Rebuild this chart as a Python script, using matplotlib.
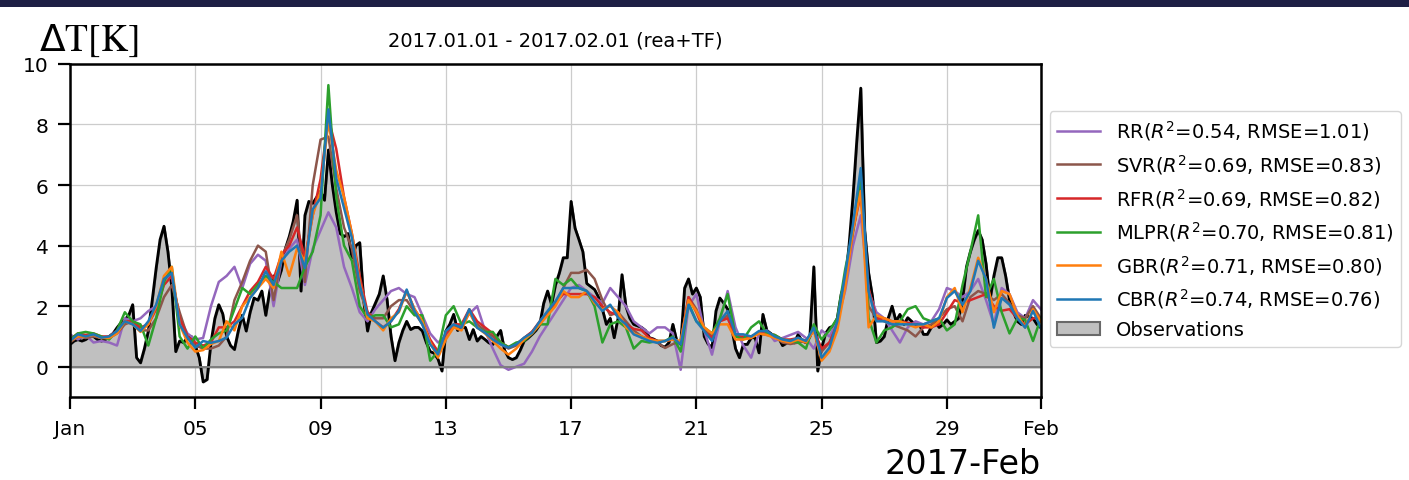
import numpy as np
import pandas as pd
import matplotlib
matplotlib.use('Agg')
import matplotlib.pyplot as plt
import matplotlib.dates as mdates
from matplotlib.patches import Rectangle

# observations, 3-hourly, 2017-01-01 00:00 .. 2017-02-01 00:00
obs = [
    0.74, 0.85, 0.9, 0.85, 0.9, 1.0, 1.0, 0.9,
    0.85, 0.9, 1.0, 1.1, 1.29, 1.45, 1.56, 1.7,
    2.05, 0.3, 0.13, 0.6, 1.18, 2.2, 3.26, 4.2,
    4.64, 3.8, 2.6, 0.5, 0.85, 0.8, 0.96, 1.0,
    0.7, 0.3, -0.5, -0.42, 0.8, 1.6, 2.05, 1.75,
    1.0, 0.7, 0.57, 1.2, 1.7, 1.18, 1.8, 2.27,
    2.2, 2.5, 1.7, 2.5, 3.0, 2.8, 3.2, 3.9,
    4.3, 4.8, 5.5, 2.5, 5.0, 5.46, 5.4, 5.6,
    5.8, 5.5, 7.16, 6.0, 5.1, 4.4, 4.3, 4.4,
    3.6, 4.0, 4.1, 2.2, 1.18, 1.8, 2.1, 2.4,
    3.0, 2.2, 1.0, 0.2, 0.8, 1.2, 1.5, 1.23,
    1.3, 1.3, 1.18, 0.8, 0.5, 0.45, 0.25, -0.14,
    1.18, 1.4, 1.73, 1.2, 1.3, 1.3, 0.9, 1.23,
    0.85, 1.0, 0.9, 0.79, 0.74, 1.0, 1.2, 0.55,
    0.3, 0.24, 0.3, 0.55, 0.85, 0.95, 1.07, 1.2,
    1.4, 2.1, 2.5, 2.05, 2.7, 3.1, 3.6, 3.6,
    5.46, 4.58, 4.2, 3.8, 2.75, 2.65, 2.55, 2.3,
    1.9, 1.4, 1.6, 0.96, 1.6, 3.04, 2.0, 1.6,
    1.4, 1.35, 1.3, 1.2, 0.96, 0.92, 0.85, 0.7,
    0.65, 0.8, 1.4, 0.85, 0.74, 2.6, 2.9, 2.4,
    2.6, 2.3, 1.0, 0.75, 0.63, 1.84, 2.27, 2.1,
    1.9, 1.3, 0.6, 0.3, 0.74, 0.74, 0.96, 0.96,
    0.46, 1.73, 1.2, 1.1, 1.0, 0.96, 0.7, 0.78,
    0.85, 0.79, 1.07, 0.85, 0.8, 1.0, 3.3, -0.14,
    0.63, 1.1, 1.29, 1.35, 1.6, 2.4, 2.8, 4.0,
    5.6, 7.5, 9.2, 4.5, 3.1, 2.3, 0.8, 0.85,
    1.0, 1.6, 2.0, 1.5, 1.73, 1.4, 1.62, 1.5,
    1.4, 1.4, 1.07, 1.07, 1.3, 1.5, 1.3, 1.4,
    1.55, 1.4, 1.5, 1.6, 2.2, 3.3, 3.8, 4.2,
    4.5, 4.2, 3.4, 2.2, 3.0, 3.6, 3.6, 3.0,
    2.2, 1.8, 1.5, 1.4, 1.7, 1.65, 1.6, 1.4,
    1.29]

# model predictions, 6-hourly
rr = [
    1.07, 0.9, 1.05, 0.8, 0.85, 0.8, 0.7, 1.6,
    1.5, 1.6, 1.84, 2.0, 2.9, 3.0, 1.6, 1.1,
    0.9, 0.95, 2.0, 2.8, 3.0, 3.3, 2.6, 3.4,
    3.7, 3.5, 2.0, 3.5, 3.9, 4.2, 2.7, 3.9,
    4.5, 5.1, 4.6, 3.3, 2.6, 1.8, 1.5, 1.9,
    2.2, 2.5, 2.6, 2.4, 2.3, 1.7, 1.1, 0.8,
    1.0, 1.3, 1.4, 1.75, 2.0, 1.2, 0.6, 0.05,
    -0.1, 0.0, 0.1, 0.5, 1.0, 1.4, 1.8, 2.2,
    2.6, 2.7, 2.5, 2.3, 2.1, 2.6, 2.3, 2.0,
    1.5, 1.3, 1.1, 1.3, 1.3, 1.1, -0.1, 2.0,
    2.4, 1.2, 0.4, 1.5, 2.5, 1.3, 0.7, 0.3,
    1.1, 1.2, 0.85, 0.95, 1.05, 1.15, 0.95, 0.6,
    1.2, 1.0, 1.5, 2.5, 4.0, 5.0, 2.5, 1.8,
    1.6, 1.2, 0.8, 1.3, 1.5, 1.4, 1.5, 1.9,
    2.6, 2.5, 2.3, 2.5, 2.9, 2.2, 1.4, 2.6,
    2.4, 1.8, 1.6, 2.2, 1.9]
svr = [
    0.8, 1.0, 0.95, 1.0, 0.95, 0.95, 1.1, 1.4,
    1.5, 1.2, 1.2, 1.6, 2.3, 2.7, 1.8, 1.0,
    0.7, 0.6, 0.6, 0.7, 1.0, 2.2, 2.8, 3.5,
    4.0, 3.8, 2.2, 3.6, 4.2, 5.0, 2.8, 6.0,
    7.5, 7.6, 5.9, 4.6, 3.9, 2.5, 1.8, 1.6,
    1.6, 2.0, 2.2, 2.2, 1.8, 1.4, 0.8, 0.5,
    1.1, 1.35, 1.3, 1.8, 1.4, 1.2, 1.0, 0.75,
    0.6, 0.7, 0.95, 1.15, 1.45, 1.8, 2.1, 2.6,
    3.1, 3.1, 3.2, 2.9, 2.2, 1.7, 1.8, 1.5,
    1.2, 1.0, 0.9, 0.8, 0.62, 0.75, 0.85, 2.3,
    1.9, 1.2, 1.0, 1.5, 1.7, 1.0, 0.95, 1.0,
    1.1, 1.05, 1.0, 0.8, 0.75, 0.8, 0.85, 1.2,
    0.5, 0.8, 1.4, 2.8, 4.4, 6.0, 2.0, 1.6,
    1.5, 1.4, 1.3, 1.2, 1.0, 1.3, 1.4, 1.6,
    1.9, 2.0, 1.5, 2.3, 2.5, 2.4, 2.2, 2.4,
    2.1, 1.7, 1.6, 2.0, 1.6]
rfr = [
    0.9, 1.1, 1.05, 1.1, 1.0, 1.0, 1.2, 1.5,
    1.5, 1.3, 1.4, 1.9, 2.7, 3.0, 1.6, 1.0,
    0.8, 0.7, 0.8, 1.3, 1.3, 1.5, 2.0, 2.5,
    2.8, 3.3, 2.9, 3.7, 4.0, 4.6, 3.6, 5.0,
    6.2, 8.2, 7.2, 5.6, 4.4, 3.0, 1.8, 1.5,
    1.3, 1.5, 1.9, 2.5, 1.9, 1.5, 0.9, 0.5,
    1.1, 1.4, 1.4, 1.9, 1.5, 1.3, 1.1, 0.8,
    0.65, 0.75, 0.95, 1.15, 1.5, 1.8, 2.1, 2.4,
    2.4, 2.4, 2.4, 2.3, 2.0, 1.8, 1.7, 1.4,
    1.25, 1.2, 0.95, 0.85, 0.85, 0.9, 0.8, 2.3,
    1.8, 1.2, 0.95, 1.5, 1.6, 1.0, 1.0, 1.0,
    1.1, 1.1, 1.05, 0.9, 0.9, 0.95, 0.85, 1.2,
    0.6, 0.8, 1.4, 2.9, 4.5, 5.7, 2.6, 1.6,
    1.6, 1.5, 1.5, 1.45, 1.4, 1.3, 1.3, 1.4,
    1.8, 2.2, 2.1, 2.2, 2.3, 2.4, 2.0, 1.85,
    1.9, 1.6, 1.4, 1.6, 1.6]
mlpr = [
    0.9, 1.1, 1.15, 1.1, 1.0, 0.9, 1.2, 1.8,
    1.5, 1.4, 0.7, 1.6, 2.8, 3.3, 1.0, 0.6,
    1.0, 0.6, 0.9, 1.1, 1.2, 1.9, 2.6, 2.4,
    2.7, 3.0, 2.8, 2.6, 2.6, 2.6, 3.3, 3.8,
    5.0, 9.3, 5.6, 4.0, 3.5, 2.0, 1.6, 1.7,
    1.7, 1.3, 1.4, 2.0, 1.7, 1.7, 0.2, 0.5,
    1.7, 2.0, 1.4, 1.5, 1.3, 1.15, 1.15, 0.8,
    0.65, 0.8, 0.85, 1.1, 1.4, 1.4, 2.9, 2.7,
    2.9, 2.6, 2.5, 2.0, 0.8, 1.4, 1.5, 1.3,
    0.6, 0.85, 0.8, 0.85, 0.85, 1.0, 0.5, 2.1,
    1.5, 1.3, 1.1, 1.6, 2.4, 1.0, 0.9, 1.3,
    1.5, 1.1, 1.05, 0.9, 0.85, 0.8, 0.6, 1.4,
    0.9, 1.2, 1.6, 3.2, 4.5, 6.3, 1.6, 0.8,
    1.2, 1.3, 1.5, 1.9, 2.0, 1.6, 1.5, 1.6,
    1.2, 1.4, 2.7, 3.8, 5.0, 2.3, 2.9, 1.8,
    1.1, 1.6, 1.55, 0.85, 1.6]
gbr = [
    0.85, 1.0, 1.0, 1.05, 0.95, 0.95, 1.1, 1.5,
    1.4, 1.15, 1.4, 2.0, 3.0, 3.3, 1.4, 0.8,
    0.5, 0.55, 0.75, 0.85, 1.5, 1.2, 2.0, 2.3,
    2.6, 2.9, 2.6, 3.8, 3.0, 3.9, 3.5, 5.0,
    5.8, 8.1, 6.5, 5.6, 4.4, 2.8, 1.6, 1.5,
    1.2, 1.6, 1.8, 2.5, 1.9, 1.5, 0.8, 0.3,
    0.9, 1.3, 1.2, 1.8, 1.3, 1.1, 0.85, 0.6,
    0.4, 0.6, 0.9, 1.1, 1.4, 1.7, 2.0, 2.5,
    2.3, 2.3, 2.5, 2.1, 1.9, 2.0, 1.8, 1.3,
    1.1, 1.0, 0.9, 0.85, 0.85, 0.9, 0.85, 2.2,
    1.84, 1.3, 1.1, 1.4, 1.4, 0.9, 0.9, 0.95,
    1.1, 1.05, 0.95, 0.85, 0.8, 0.9, 0.8, 1.2,
    0.2, 0.5, 1.2, 2.6, 4.5, 5.8, 1.3, 1.7,
    1.6, 1.5, 1.5, 1.4, 1.3, 1.4, 1.3, 1.5,
    2.3, 2.6, 1.8, 2.6, 3.6, 2.9, 1.8, 2.5,
    2.4, 1.7, 1.3, 1.9, 1.5]
cbr = [
    0.85, 1.07, 1.0, 1.07, 0.96, 1.0, 1.18, 1.5,
    1.4, 1.18, 1.5, 2.05, 2.9, 3.1, 1.4, 0.96,
    0.63, 0.85, 0.79, 0.85, 0.96, 1.4, 1.62, 2.27,
    2.6, 3.15, 2.7, 3.5, 3.8, 4.0, 3.26, 5.2,
    5.57, 8.5, 6.23, 5.24, 4.25, 2.7, 1.73, 1.5,
    1.29, 1.5, 1.84, 2.55, 1.84, 1.4, 0.74, 0.41,
    1.18, 1.4, 1.29, 1.9, 1.29, 1.12, 0.9, 0.74,
    0.63, 0.74, 0.96, 1.12, 1.5, 1.84, 2.16, 2.6,
    2.6, 2.6, 2.5, 2.16, 1.84, 2.05, 1.62, 1.4,
    1.07, 0.96, 0.85, 0.79, 0.85, 0.96, 0.74, 2.05,
    1.5, 1.18, 0.85, 1.5, 1.84, 1.07, 1.07, 1.0,
    1.18, 1.18, 1.0, 0.9, 0.85, 0.96, 0.85, 1.29,
    0.3, 0.63, 1.5, 3.04, 4.7, 6.56, 2.5, 1.5,
    1.5, 1.4, 1.4, 1.4, 1.4, 1.4, 1.5, 1.6,
    2.27, 2.5, 2.05, 2.5, 3.5, 2.9, 1.29, 2.27,
    2.05, 1.6, 1.29, 1.84, 1.29]

models = ['RR', 'SVR', 'RFR', 'MLPR', 'GBR', 'CBR']
r2 = [0.54, 0.69, 0.69, 0.70, 0.71, 0.74]
rmse = [1.01, 0.83, 0.82, 0.81, 0.80, 0.76]
colors = ['tab:purple', 'tab:brown', 'tab:red', 'tab:green', 'tab:orange', 'tab:blue']
preds = [rr, svr, rfr, mlpr, gbr, cbr]

t_obs = pd.date_range('2017-01-01', '2017-02-01', freq='3h')
t_mod = pd.date_range('2017-01-01', '2017-02-01', freq='6h')

fig = plt.figure(figsize=(14.09, 4.81), dpi=100)
ax = fig.add_axes([0.0497, 0.1725, 0.689, 0.6925])

# dark strip at the top
fig.patches.append(Rectangle((0, 0.983), 1, 0.017, transform=fig.transFigure,
                             facecolor='#1e1f45', edgecolor='none'))

ax.fill_between(t_obs, 0, obs, facecolor='silver', edgecolor='dimgray',
                linewidth=1.5, label='Observations')
ax.plot(t_obs, obs, color='k', lw=2.0)
for name, r, e, c, p in zip(models, r2, rmse, colors, preds):
    ax.plot(t_mod, p, color=c, lw=1.8,
            label=name + '($R^2$=%.2f, RMSE=%.2f)' % (r, e))
ax.axhline(0, color='gray', lw=1.3)

ax.set_xlim(pd.Timestamp('2017-01-01'), pd.Timestamp('2017-02-01'))
ax.set_ylim(-1, 10)
ax.set_yticks([0, 2, 4, 6, 8, 10])
loc = mdates.DayLocator(bymonthday=[1, 5, 9, 13, 17, 21, 25, 29])
ax.xaxis.set_major_locator(loc)
ax.xaxis.set_major_formatter(mdates.ConciseDateFormatter(loc))
ax.xaxis.get_offset_text().set_fontsize(24)
ax.xaxis.OFFSETTEXTPAD = 7
ax.tick_params(labelsize=14.5, width=1.6, length=8.5, pad=7)
for s in ax.spines.values():
    s.set_linewidth(1.8)
ax.grid(color='#cccccc', lw=0.9)
ax.set_axisbelow(True)

ax.set_title('2017.01.01 - 2017.02.01 (rea+TF)', fontsize=14, pad=13)
fig.text(0.028, 0.895, r'$\Delta$T[K]', fontsize=27, family='STIXGeneral')

h, l = ax.get_legend_handles_labels()
order = [1, 2, 3, 4, 5, 6, 0]
ax.legend([h[i] for i in order], [l[i] for i in order], loc='center left',
          bbox_to_anchor=(1.009, 0.505), borderaxespad=0, fontsize=14,
          handlelength=2.2)

fig.savefig('out.png', dpi=100)
